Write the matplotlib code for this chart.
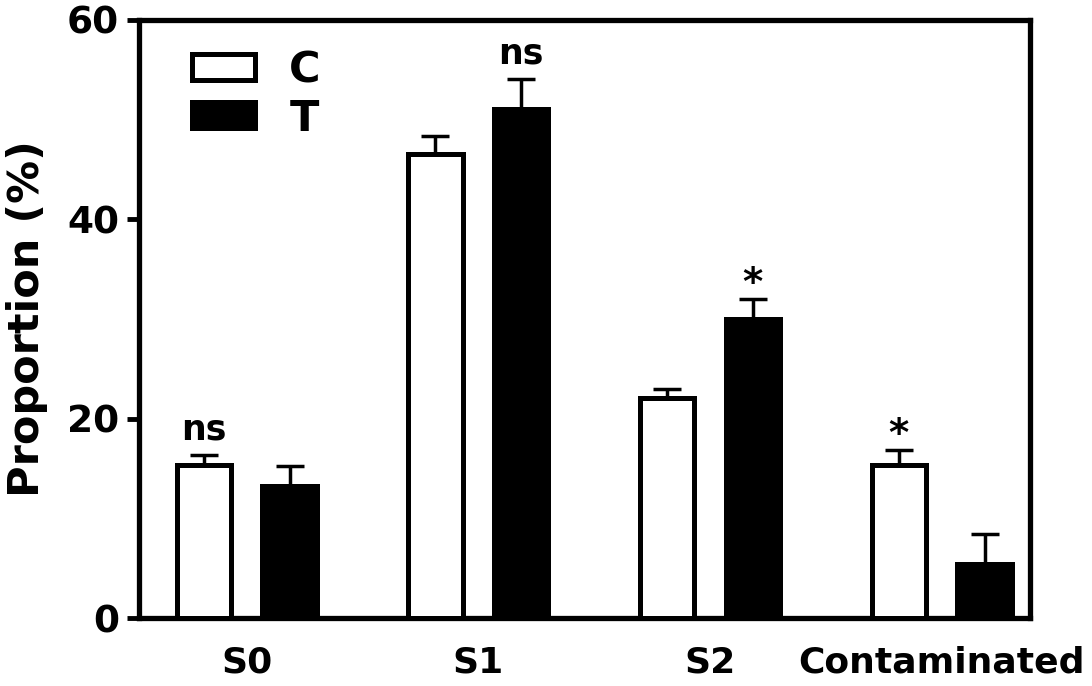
import numpy as np
import matplotlib.pyplot as plt

# values
categories = ['S0', 'S1', 'S2', 'Contaminated']
c_mean = [15.4, 46.5, 22.1, 15.4]
c_err = [1.0, 1.9, 0.9, 1.5]
t_mean = [13.2, 51.1, 30.0, 5.4]
t_err = [2.1, 3.0, 2.0, 3.0]
c_marks = ['ns', '', '', '*']
t_marks = ['', 'ns', '*', '']

plt.rcParams['font.family'] = ['DejaVu Sans']
plt.rcParams['font.weight'] = 'bold'

fig = plt.figure(figsize=(10.92, 6.86), dpi=100)
ax = fig.add_axes([0.127, 0.099, 0.816, 0.872])

x = np.arange(len(categories))
off = 0.185
w = 0.235

bc = ax.bar(x - off, c_mean, w, color='white', edgecolor='black', linewidth=3.6, label='C', zorder=3)
bt = ax.bar(x + off, t_mean, w, color='black', edgecolor='black', linewidth=3.6, label='T', zorder=3)
ax.errorbar(x - off, c_mean, yerr=[np.zeros(4), c_err], fmt='none', ecolor='black',
            elinewidth=2.5, capsize=10, capthick=2.5, zorder=2)
ax.errorbar(x + off, t_mean, yerr=[np.zeros(4), t_err], fmt='none', ecolor='black',
            elinewidth=2.5, capsize=10, capthick=2.5, zorder=2)

def mark(txt, xpos, ytop):
    # asterisks sit high in the glyph box, so pull them down a bit
    dy = 6 if txt == 'ns' else -3
    size = 25 if txt == 'ns' else 28
    ax.annotate(txt, (xpos, ytop), xytext=(0, dy), textcoords='offset points',
                ha='center', va='bottom', fontsize=size, fontweight='bold')

for i in range(len(categories)):
    if c_marks[i]:
        mark(c_marks[i], x[i] - off, c_mean[i] + c_err[i])
    if t_marks[i]:
        mark(t_marks[i], x[i] + off, t_mean[i] + t_err[i])

ax.set_xlim(-0.466, 3.38)
ax.set_ylim(0, 60)
ax.set_yticks([0, 20, 40, 60])
ax.set_xticks(x)
ax.set_xticklabels(categories)
ax.tick_params(axis='x', length=0, labelsize=26, pad=20)
ax.tick_params(axis='y', length=9, width=3.5, labelsize=27, direction='out', pad=5)
for s in ax.spines.values():
    s.set_linewidth(3.8)
ax.set_ylabel('Proportion (%)', fontsize=31, fontweight='bold', labelpad=14)

ax.legend(loc='upper left', frameon=False, fontsize=31, handlelength=1.45, handleheight=0.55,
          handletextpad=0.8, labelspacing=0.15, borderaxespad=0, bbox_to_anchor=(0.041, 0.98))

fig.savefig('out.png', dpi=100)
